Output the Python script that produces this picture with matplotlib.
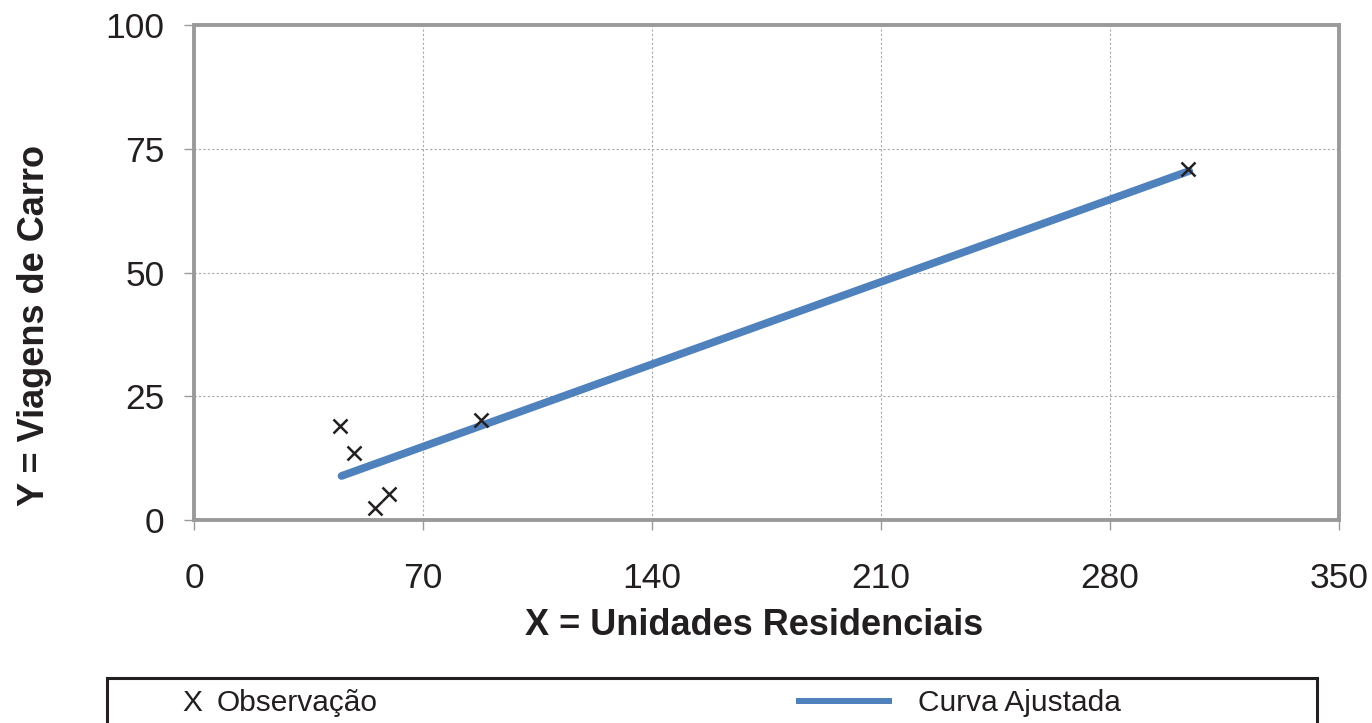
import matplotlib
matplotlib.use("Agg")
import matplotlib.pyplot as plt
from matplotlib.patches import Rectangle
from matplotlib.lines import Line2D

plt.rcParams['font.family'] = ['Liberation Sans', 'DejaVu Sans']

# Data
obs_x = [44.6, 48.9, 55.3, 59.6, 87.7, 303.8]
obs_y = [19.0, 13.5, 2.4, 5.3, 20.2, 70.9]
fit_x = [45.1, 304.2]
fit_y = [8.9, 70.5]
x_ticks = [0, 70, 140, 210, 280, 350]
y_ticks = [0, 25, 50, 75, 100]
x_label = "X = Unidades Residenciais"
y_label = "Y = Viagens de Carro"
legend_obs = "Observação"
legend_fit = "Curva Ajustada"

W, H = 1372, 723
fig = plt.figure(figsize=(W / 100, H / 100), dpi=100)
ax = fig.add_axes([194 / W, 1 - 520 / H, 1145 / W, 495 / H])

TXT = '#231f20'
BLUE = '#4f81bd'
SPINE = '#9a9a9a'

ax.plot(fit_x, fit_y, color=BLUE, lw=5.6, solid_capstyle='round', zorder=3)
ax.plot(obs_x, obs_y, linestyle='none', marker='x', ms=10.5, mew=1.8,
        color=TXT, zorder=4)

ax.set_xlim(0, 350)
ax.set_ylim(0, 100)
ax.set_xticks(x_ticks)
ax.set_yticks(y_ticks)
ax.grid(True, color='#a8a8a8', lw=0.8, linestyle=(0, (2, 2)))
ax.set_axisbelow(True)

for s in ax.spines.values():
    s.set_color(SPINE)
    s.set_linewidth(2.8)

ax.tick_params(axis='both', direction='out', length=7.2, width=1.0,
               color=SPINE, labelsize=25.5, labelcolor=TXT)
ax.tick_params(axis='x', pad=23)
ax.tick_params(axis='y', pad=14)

fig.text(754 / W, 1 - 635 / H, x_label, ha='center', va='baseline',
         fontsize=26, fontweight='bold', color=TXT)
fig.text(35 / W, 1 - 325.5 / H, y_label, ha='center', va='center',
         rotation=90, fontsize=26, fontweight='bold', color=TXT)

# Legend box (bottom edge cut off by figure)
rect = Rectangle((107 / W, -0.05), (1317 - 107) / W, (0.05 + 1 - 677.5 / H),
                 transform=fig.transFigure, fill=False, edgecolor=TXT,
                 lw=2.2, clip_on=False)
fig.add_artist(rect)

fig.text(182 / W, 1 - 711 / H, "X", ha='left', va='baseline',
         fontsize=21.5, color=TXT)
fig.text(217 / W, 1 - 711 / H, legend_obs, ha='left', va='baseline',
         fontsize=21.5, color=TXT)
fig.add_artist(Line2D([796 / W, 892 / W], [1 - 701 / H, 1 - 701 / H],
                      transform=fig.transFigure, color=BLUE, lw=4.3,
                      solid_capstyle='butt'))
fig.text(918 / W, 1 - 711 / H, legend_fit, ha='left', va='baseline',
         fontsize=21.5, color=TXT)

fig.savefig("out.png", dpi=100)
